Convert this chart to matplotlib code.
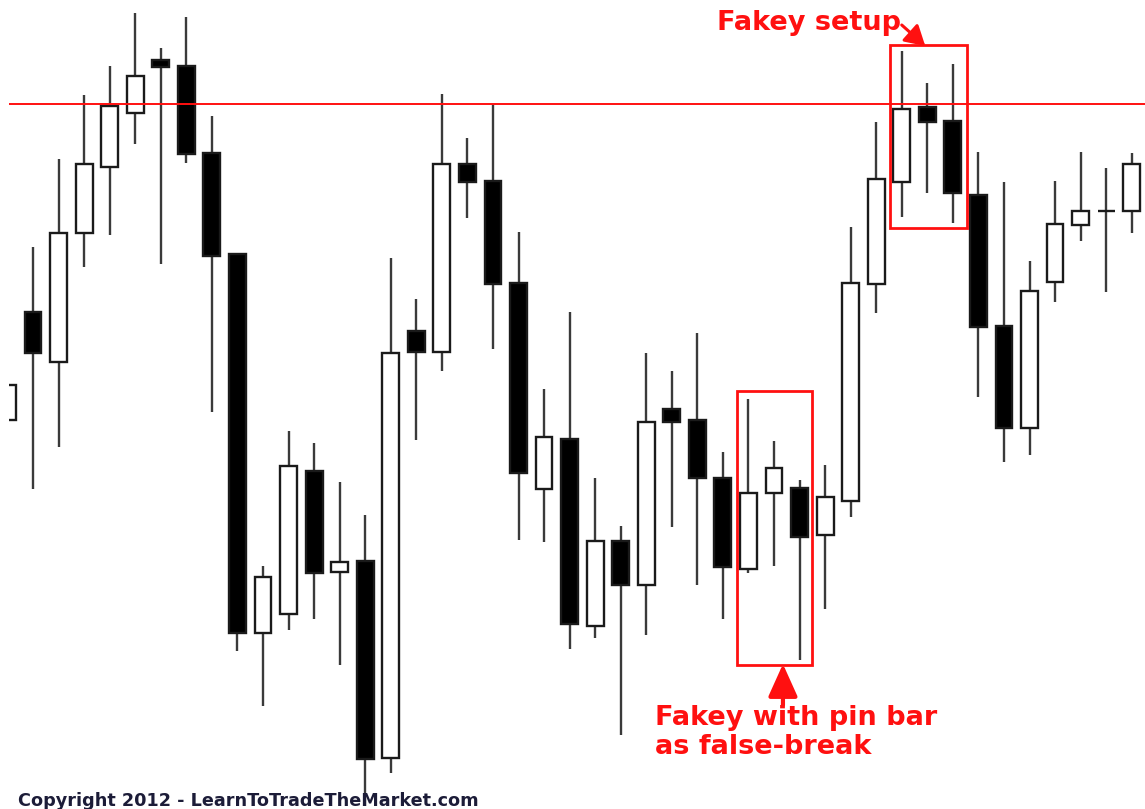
"""Candlestick chart: fakey setup vs fakey with pin bar as false-break."""

import matplotlib

matplotlib.use("Agg")
import matplotlib.pyplot as plt
import numpy as np
from matplotlib.patches import Rectangle

# price values (arbitrary units)
opens = [389, 497, 447, 576, 642, 696, 749, 743, 656, 555,
         176, 195, 338, 237, 248, 51, 478, 457, 645, 628,
         526, 320, 370, 183, 268, 224, 400, 389, 331, 240,
         316, 321, 274, 308, 525, 627, 702, 688, 614, 483,
         381, 527, 584, 598, 598]
highs = [434, 562, 650, 714, 743, 796, 761, 792, 693, 555,
         243, 378, 366, 327, 294, 551, 510, 715, 671, 704,
         577, 420, 497, 331, 283, 456, 438, 476, 357, 410,
         368, 329, 344, 582, 687, 758, 726, 745, 657, 627,
         548, 628, 657, 641, 656]
lows = [379, 320, 362, 542, 574, 665, 545, 646, 397, 158,
        103, 179, 190, 144, 3, 36, 369, 438, 591, 460,
        269, 267, 160, 171, 74, 174, 282, 224, 190, 236,
        243, 149, 200, 292, 496, 592, 616, 586, 412, 347,
        354, 507, 568, 517, 576]
closes = [424, 456, 576, 645, 703, 733, 742, 655, 553, 176,
          232, 343, 236, 247, 50, 456, 457, 645, 627, 525,
          336, 372, 185, 268, 224, 387, 387, 331, 242, 316,
          341, 272, 312, 526, 630, 700, 687, 616, 482, 381,
          518, 585, 598, 598, 645]

resistance = 705
setup_box = (34.54, 37.55, 581, 764)      # x0, x1, y0, y1
pinbar_box = (28.55, 31.49, 144, 418)

RED = "#ff1010"

fig = plt.figure(figsize=(11.45, 8.09), dpi=100)
ax = fig.add_axes([9 / 1145, 0, 1 - 9 / 1145, 1])
ax.set_xlim(0.059, 44.52)
ax.set_ylim(0, 809)
ax.axis("off")

x = np.arange(len(opens))
o = np.array(opens)
c = np.array(closes)
up = c >= o

ax.vlines(x, lows, highs, color="#3a3a3a", lw=1.7, zorder=1)
bottoms = np.minimum(o, c)
heights = np.abs(c - o)
ax.bar(x, heights, bottom=bottoms, width=0.66,
       color=np.where(up, "white", "black"), edgecolor="#1a1a1a",
       linewidth=1.7, zorder=2)

ax.axhline(resistance, color=RED, lw=1.4, zorder=3)

for x0, x1, y0, y1 in (setup_box, pinbar_box):
    ax.add_patch(Rectangle((x0, y0), x1 - x0, y1 - y0, fill=False,
                           edgecolor=RED, lw=2.0, zorder=4))

font = dict(family="DejaVu Sans", weight="bold", color=RED, fontsize=19.5)
ax.text(27.77, 779, "Fakey setup", va="baseline", **font)
ax.annotate("", xy=(35.92, 763), xytext=(35.0, 784),
            arrowprops=dict(arrowstyle="-|>,head_length=0.6,head_width=0.35",
                            color=RED, lw=2.2, mutation_scale=20,
                            shrinkA=0, shrinkB=0))

ax.text(25.34, 84, "Fakey with pin bar", va="baseline", **font)
ax.text(25.34, 55, "as false-break", va="baseline", **font)
ax.annotate("", xy=(30.35, 145), xytext=(30.35, 104),
            arrowprops=dict(arrowstyle="-|>,head_length=1.0,head_width=0.45",
                            color=RED, lw=3, mutation_scale=20,
                            shrinkA=0, shrinkB=0))

fig.text(18 / 1145, 3 / 809, "Copyright 2012 - LearnToTradeTheMarket.com",
         family="DejaVu Sans", weight="bold", color="#1c1c38",
         fontsize=12.7, va="baseline")

fig.savefig("out.png", dpi=100, facecolor="white")
